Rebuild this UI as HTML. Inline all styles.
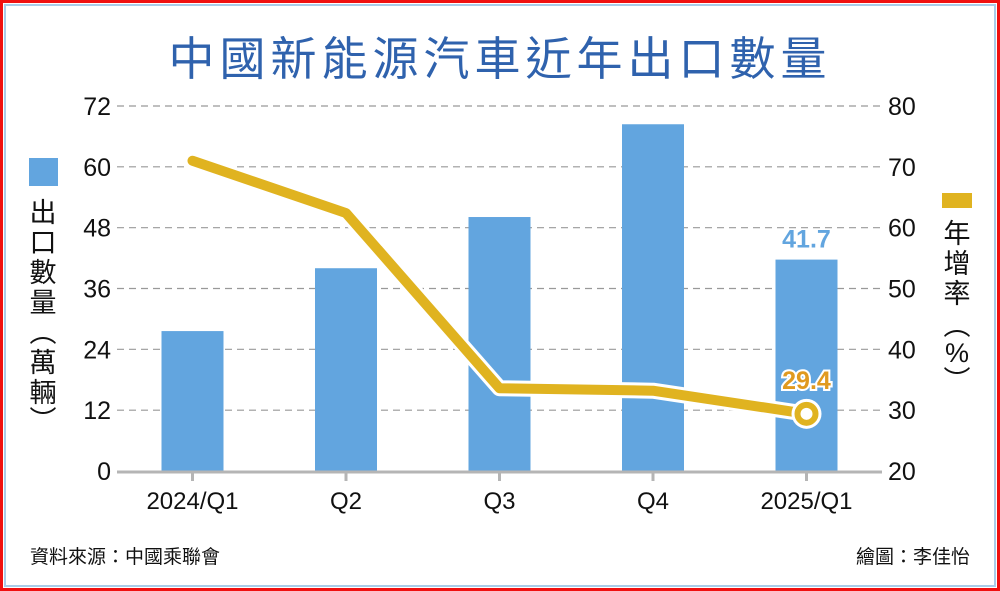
<!DOCTYPE html>
<html><head><meta charset="utf-8"><style>
html,body{margin:0;padding:0;background:#fff}
svg{display:block}
text{font-family:"Liberation Sans","Noto Sans CJK TC",sans-serif}
</style></head><body>
<svg width="1000" height="591" viewBox="0 0 1000 591" xmlns="http://www.w3.org/2000/svg">
<rect x="1.5" y="1.5" width="997" height="588" fill="#fff" stroke="#f01010" stroke-width="3"/>
<rect x="5" y="5" width="990" height="581" fill="none" stroke="#a9cce8" stroke-width="2"/>
<text x="500" y="75" text-anchor="middle" font-size="46" fill="#2f62ad" letter-spacing="5">中國新能源汽車近年出口數量</text>
<g id="grid"></g>
<g id="bars"></g>
<g id="line"></g>
<g id="axes"></g>
<rect x="29" y="158" width="29" height="28" fill="#62a5df"/>
<text font-size="27" fill="#111" text-anchor="middle">
<tspan x="43" y="222">出</tspan><tspan x="43" y="252">口</tspan><tspan x="43" y="282">數</tspan><tspan x="43" y="312">量</tspan><tspan x="43" y="342">︵</tspan><tspan x="43" y="372">萬</tspan><tspan x="43" y="402">輛</tspan><tspan x="43" y="430">︶</tspan>
</text>
<rect x="942" y="193" width="30" height="15" fill="#e0b320"/>
<text font-size="27" fill="#111" text-anchor="middle">
<tspan x="957" y="243">年</tspan><tspan x="957" y="273">增</tspan><tspan x="957" y="303">率</tspan><tspan x="957" y="335">︵</tspan><tspan x="957" y="362">%</tspan><tspan x="957" y="390">︶</tspan>
</text>
<text x="30" y="563" font-size="19" fill="#111">資料來源：中國乘聯會</text>
<text x="970" y="563" font-size="19" fill="#111" text-anchor="end">繪圖：李佳怡</text>
</svg>
<script>
const categories=["2024/Q1","Q2","Q3","Q4","2025/Q1"];
const exportVolume=[27.6,40.0,50.1,68.4,41.7];
const growthRate=[71.0,62.4,33.6,33.2,29.4];
const leftTicks=[0,12,24,36,48,60,72];
const rightTicks=[20,30,40,50,60,70,80];
const NS="http://www.w3.org/2000/svg";
const x0=117,x1=882,yb=471,yt=106;
const bandW=(x1-x0)/categories.length;
function xc(i){return x0+bandW*(i+0.5)+ (i-2)*0.5;}
function yL(v){return yb-(v-0)/(72-0)*(yb-yt);}
function yR(v){return yb-(v-20)/(80-20)*(yb-yt);}
function mk(tag,attrs,parent){const e=document.createElementNS(NS,tag);for(const k in attrs)e.setAttribute(k,attrs[k]);parent.appendChild(e);return e;}
const grid=document.getElementById('grid'),bars=document.getElementById('bars'),line=document.getElementById('line'),axes=document.getElementById('axes');
leftTicks.forEach((t,i)=>{
  const y=yL(t);
  if(t>0){const g=mk('line',{x1:x0,x2:x1,y1:y,y2:y,stroke:'#999','stroke-width':1.2,'stroke-dasharray':'7 5'},grid);
  
  }
  const lt=mk('text',{x:111,y:y+9,'font-size':25,'text-anchor':'end',fill:'#111'},axes);lt.textContent=t;
  
  
  const rt=mk('text',{x:888,y:yR(rightTicks[i])+9,'font-size':25,'text-anchor':'start',fill:'#111'},axes);rt.textContent=rightTicks[i];
  
  
});
const bw=62;
exportVolume.forEach((v,i)=>{
  const r=mk('rect',{x:xc(i)-bw/2,y:yL(v),width:bw,height:yb-yL(v),fill:'#62a5df'},bars);
  
  
});
const base=mk('line',{x1:x0,x2:x1,y1:yb+1,y2:yb+1,stroke:'#b5b5b5','stroke-width':3},axes);


categories.forEach((c,i)=>{
  const tk=mk('line',{x1:xc(i),x2:xc(i),y1:yb,y2:yb+10,stroke:'#b5b5b5','stroke-width':3},axes);
  
  
  const t=mk('text',{x:xc(i),y:yb+38,'font-size':24,'text-anchor':'middle',fill:'#111'},axes);t.textContent=c;
  
  
});
const pts=growthRate.map((v,i)=>xc(i)+','+yR(v)).join(' ');
const outline=mk('polyline',{points:pts,fill:'none',stroke:'#fff','stroke-width':16,'stroke-linejoin':'round','stroke-linecap':'round'},line);


const pl=mk('polyline',{points:pts,fill:'none',stroke:'#e0b320','stroke-width':10,'stroke-linejoin':'round','stroke-linecap':'round'},line);


const li=growthRate.length-1;
const cw=mk('circle',{cx:xc(li),cy:yR(growthRate[li]),r:15,fill:'#fff'},line);


const cp=mk('circle',{cx:xc(li),cy:yR(growthRate[li]),r:9,fill:'#fff',stroke:'#e0b320','stroke-width':6},line);


const bl=mk('text',{x:xc(li),y:yL(exportVolume[li])-12,'font-size':25,'font-weight':'bold','text-anchor':'middle',fill:'#62a5df'},line);bl.textContent=exportVolume[li];


const gl=mk('text',{x:xc(li),y:yR(growthRate[li])-25,'font-size':25,'font-weight':'bold','text-anchor':'middle',fill:'#e09a20',stroke:'#fff','stroke-width':4,'paint-order':'stroke'},line);gl.textContent=growthRate[li];


</script>
</body></html>
